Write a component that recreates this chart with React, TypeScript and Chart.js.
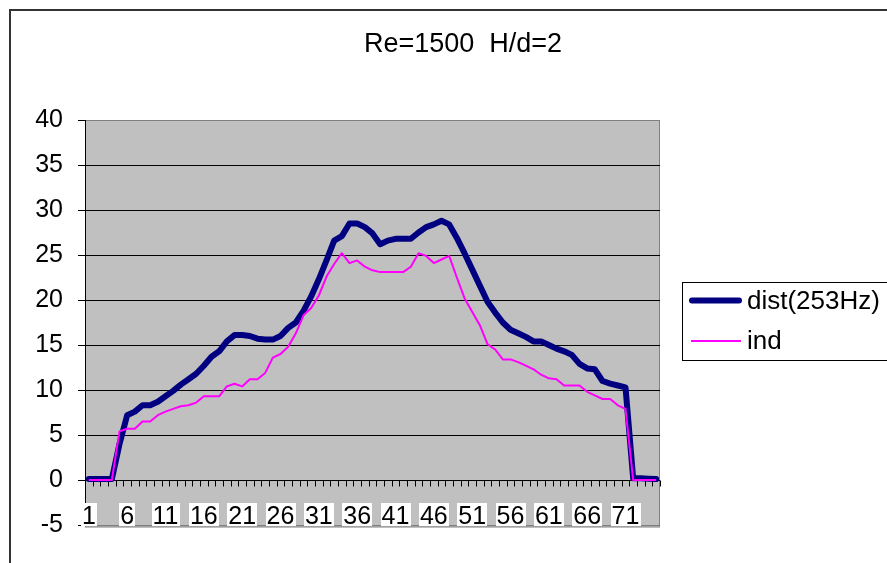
import React, { useEffect, useRef } from 'react';
import { Chart, registerables } from 'chart.js';

Chart.register(...registerables);

const FONT = '"Liberation Sans", Arial, Helvetica, sans-serif';
const TITLE = 'Re=1500  H/d=2';

const CATEGORIES = [
  '1', '2', '3', '4', '5', '6', '7', '8', '9', '10',
  '11', '12', '13', '14', '15', '16', '17', '18', '19', '20',
  '21', '22', '23', '24', '25', '26', '27', '28', '29', '30',
  '31', '32', '33', '34', '35', '36', '37', '38', '39', '40',
  '41', '42', '43', '44', '45', '46', '47', '48', '49', '50',
  '51', '52', '53', '54', '55', '56', '57', '58', '59', '60',
  '61', '62', '63', '64', '65', '66', '67', '68', '69', '70',
  '71', '72', '73', '74', '75',
];

const DIST_LABEL = 'dist(253Hz)';
const DIST = [
  0.1, 0.1, 0.1, 0.1, 4.0, 7.2, 7.6, 8.3, 8.3, 8.7,
  9.3, 9.9, 10.6, 11.2, 11.8, 12.7, 13.7, 14.3, 15.4, 16.1,
  16.1, 16.0, 15.7, 15.6, 15.6, 16.0, 16.9, 17.5, 18.8, 20.4,
  22.3, 24.4, 26.6, 27.1, 28.5, 28.5, 28.1, 27.4, 26.2, 26.6,
  26.8, 26.8, 26.8, 27.5, 28.1, 28.4, 28.8, 28.4, 26.9, 25.2,
  23.4, 21.6, 19.8, 18.6, 17.5, 16.7, 16.3, 15.9, 15.4, 15.4,
  15.0, 14.6, 14.3, 13.9, 12.9, 12.4, 12.3, 11.0, 10.7, 10.5,
  10.3, 0.2, 0.2, 0.15, 0.1,
];

const IND_LABEL = 'ind';
const IND = [
  0, 0, 0, 0, 5.4, 5.7, 5.7, 6.5, 6.5, 7.2,
  7.6, 7.9, 8.2, 8.3, 8.6, 9.3, 9.3, 9.3, 10.4, 10.7,
  10.4, 11.2, 11.2, 11.9, 13.6, 14.0, 14.8, 16.3, 18.3, 19.1,
  20.5, 22.6, 24.0, 25.2, 24.1, 24.4, 23.7, 23.3, 23.1, 23.1,
  23.1, 23.1, 23.7, 25.2, 24.9, 24.1, 24.5, 24.9, 22.5, 20.2,
  18.7, 17.2, 15.1, 14.5, 13.4, 13.4, 13.1, 12.7, 12.3, 11.7,
  11.3, 11.2, 10.5, 10.5, 10.5, 9.8, 9.4, 9.0, 9.0, 8.3,
  7.9, 0, 0, 0, 0,
];

const Y_MIN = -5;
const Y_MAX = 40;
const Y_STEP = 5;
const LABEL_EVERY = 5;

const decorPlugin = {
  id: 'excelDecor',
  beforeDraw(chart: any) {
    const { ctx, chartArea: a } = chart;
    ctx.save();
    ctx.fillStyle = '#ffffff';
    ctx.fillRect(0, 0, chart.width, chart.height);
    // outer chart border (cut at right and bottom)
    ctx.strokeStyle = '#333333';
    ctx.lineWidth = 2;
    ctx.beginPath();
    ctx.moveTo(10, chart.height + 5);
    ctx.lineTo(10, 10);
    ctx.lineTo(chart.width + 5, 10);
    ctx.stroke();
    // plot area
    ctx.fillStyle = '#C0C0C0';
    ctx.fillRect(a.left, a.top, a.right - a.left, a.bottom - a.top + 2);
    ctx.strokeStyle = '#808080';
    ctx.lineWidth = 1;
    ctx.strokeRect(a.left + 0.5, a.top + 0.5, a.right - a.left - 1, a.bottom - a.top + 1.5);
    // title
    ctx.fillStyle = '#000';
    ctx.font = `27px ${FONT}`;
    ctx.textAlign = 'center';
    ctx.textBaseline = 'middle';
    ctx.fillText(TITLE, 463, 45);
    ctx.restore();
  },
  beforeDatasetsDraw(chart: any) {
    const { ctx, chartArea: a } = chart;
    const xs = chart.scales.x;
    const ys = chart.scales.y;
    const y0 = Math.round(ys.getPixelForValue(0)) + 0.5;
    ctx.save();
    // category tick marks on the zero line
    ctx.strokeStyle = '#000';
    ctx.lineWidth = 1;
    ctx.beginPath();
    for (let k = 0; k <= CATEGORIES.length; k++) {
      const x = Math.round(xs.getPixelForValue(k - 0.5)) + 0.5;
      ctx.moveTo(x, y0);
      ctx.lineTo(x, y0 + 6);
    }
    ctx.stroke();
    // category labels at the low end of the plot, with white boxes
    ctx.font = `25px ${FONT}`;
    ctx.textAlign = 'center';
    ctx.textBaseline = 'middle';
    const cy = a.bottom - 8;
    CATEGORIES.forEach((lab, i) => {
      if (i % LABEL_EVERY !== 0) return;
      const x = xs.getPixelForValue(i);
      const w = ctx.measureText(lab).width;
      ctx.fillStyle = '#ffffff';
      ctx.fillRect(Math.round(x - w / 2 - 1), a.bottom - 22, Math.round(w + 2), 23);
      ctx.fillStyle = '#000';
      ctx.fillText(lab, x, cy);
    });
    ctx.restore();
  },
  afterDraw(chart: any) {
    const { ctx } = chart;
    const ds = chart.data.datasets;
    ctx.save();
    ctx.strokeStyle = '#000';
    ctx.lineWidth = 1;
    ctx.strokeRect(682.5, 282.5, 260, 78);
    const rows = [300.5, 341];
    ds.forEach((d: any, i: number) => {
      const y = rows[i];
      ctx.strokeStyle = d.borderColor;
      ctx.lineWidth = d.borderWidth;
      ctx.lineCap = d.borderWidth > 3 ? 'round' : 'butt';
      ctx.beginPath();
      ctx.moveTo(d.borderWidth > 3 ? 692 : 691, y);
      ctx.lineTo(d.borderWidth > 3 ? 739 : 741, y);
      ctx.stroke();
      ctx.fillStyle = '#000';
      ctx.font = `26px ${FONT}`;
      ctx.textAlign = 'left';
      ctx.textBaseline = 'middle';
      ctx.fillText(d.label, 747, y + 1);
    });
    ctx.restore();
  },
};

export default function App() {
  const canvasRef = useRef<HTMLCanvasElement | null>(null);

  useEffect(() => {
    if (!canvasRef.current) return;
    const chart = new Chart(canvasRef.current, {
      type: 'line',
      data: {
        labels: CATEGORIES,
        datasets: [
          {
            label: DIST_LABEL,
            data: DIST,
            borderColor: '#000080',
            backgroundColor: '#000080',
            borderWidth: 6,
            pointRadius: 0,
            tension: 0,
            borderJoinStyle: 'round',
            borderCapStyle: 'round',
            order: 1,
          },
          {
            label: IND_LABEL,
            data: IND,
            borderColor: '#FF00FF',
            backgroundColor: '#FF00FF',
            borderWidth: 2,
            pointRadius: 0,
            tension: 0,
            borderJoinStyle: 'round',
            order: 0,
          },
        ],
      },
      options: {
        responsive: false,
        animation: false,
        devicePixelRatio: 1,
        layout: { padding: { left: 0, right: 227, top: 120, bottom: 0 } },
        plugins: {
          legend: { display: false },
          title: { display: false },
          tooltip: { enabled: false },
        },
        scales: {
          x: {
            type: 'category',
            offset: true,
            grid: { display: false },
            border: { display: false },
            ticks: { display: false },
            afterFit: (s: any) => {
              s.height = 38;
            },
          },
          y: {
            min: Y_MIN,
            max: Y_MAX,
            ticks: {
              stepSize: Y_STEP,
              padding: 15,
              color: '#000',
              font: { family: FONT, size: 25 },
            },
            grid: {
              color: (c: any) =>
                c.tick && (c.tick.value === Y_MAX || c.tick.value === Y_MIN) ? '#808080' : '#000',
              lineWidth: 1,
              drawTicks: true,
              tickLength: 7,
              tickColor: '#000',
            },
            border: { display: true, color: '#000', width: 1 },
            afterFit: (s: any) => {
              s.width = 85;
            },
          },
        },
      },
      plugins: [decorPlugin],
    } as any);
    return () => chart.destroy();
  }, []);

  return (
    <div style={{ position: 'absolute', left: 0, top: 0, width: 887, height: 563, background: '#fff' }}>
      <canvas ref={canvasRef} width={887} height={563} style={{ display: 'block' }} />
    </div>
  );
}
